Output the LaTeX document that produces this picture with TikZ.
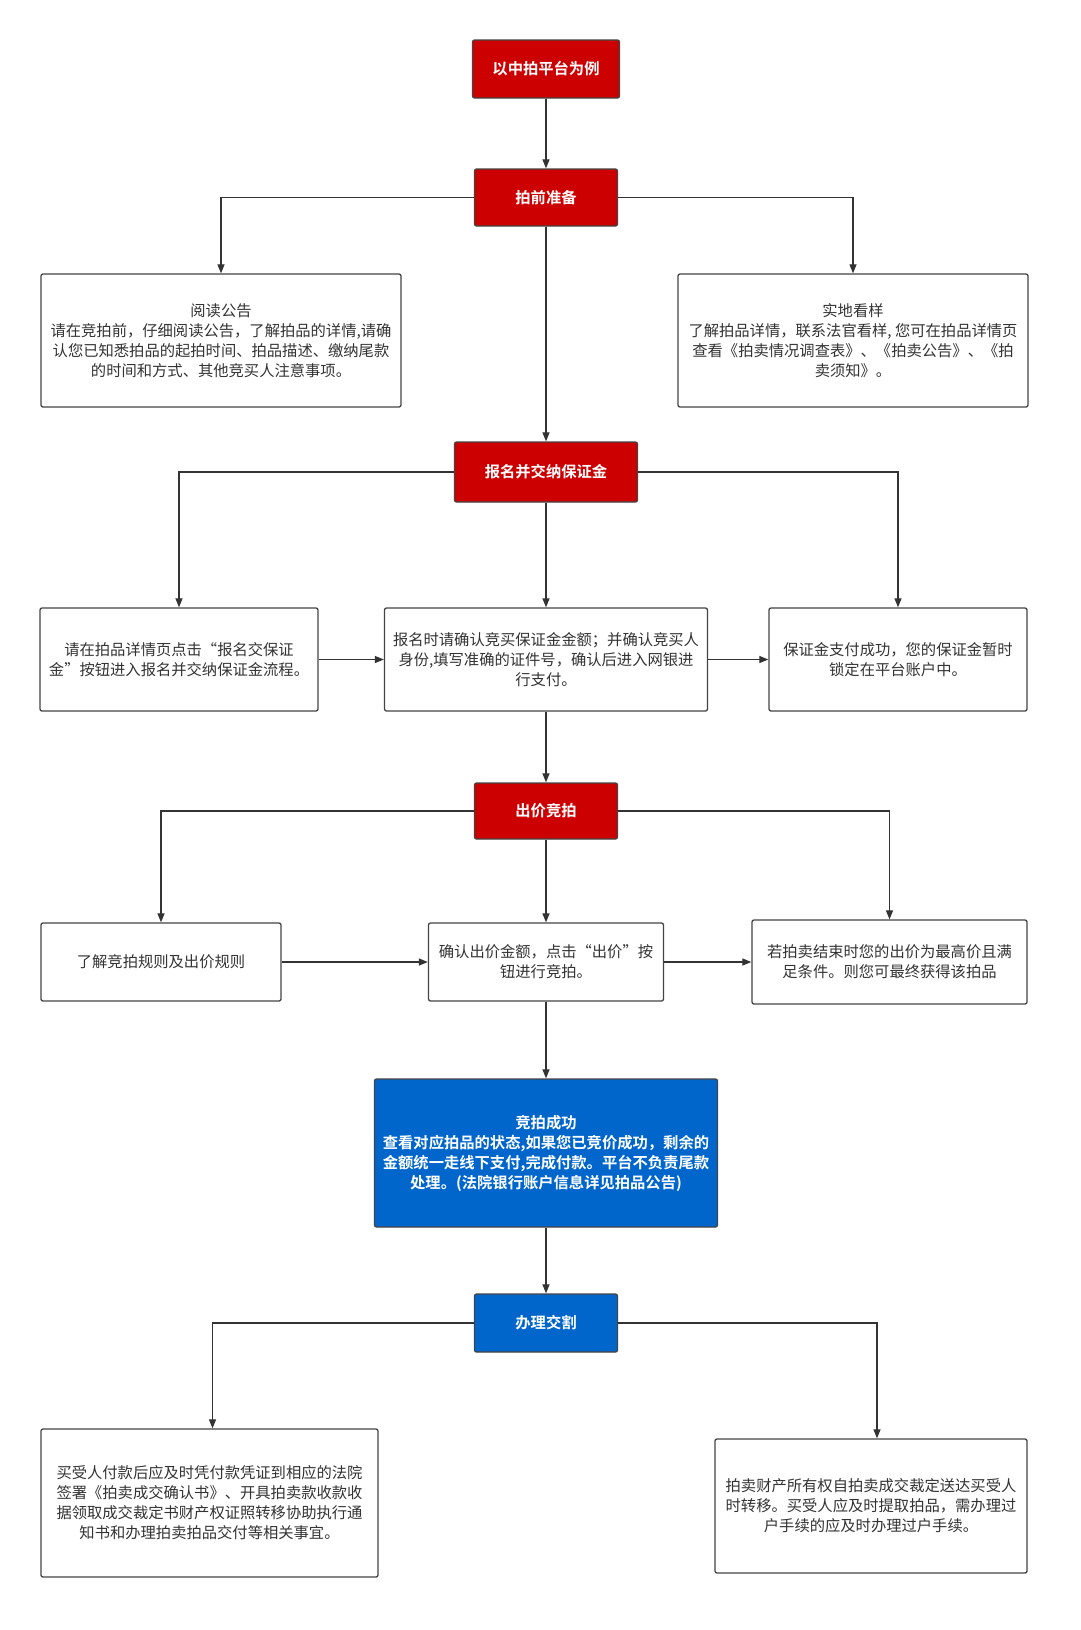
\documentclass[tikz,border=0pt]{standalone}
\usepackage{fontspec}
\setmainfont{Noto Sans CJK SC}[BoldFont={Noto Sans CJK SC Bold}]
\usetikzlibrary{arrows.meta}
\definecolor{hdred}{HTML}{CC0000}
\definecolor{hdblue}{HTML}{0066CC}
\definecolor{txtgrey}{HTML}{333333}
\definecolor{edgegrey}{HTML}{444444}
\begin{document}
\begin{tikzpicture}[x=1pt,y=-1pt,
  redbox/.style={draw=edgegrey,line width=1.3pt,rounded corners=2pt,fill=hdred,text=white,
    font=\fontsize{15.3}{20}\selectfont\bfseries,inner sep=0pt},
  bluebox/.style={draw=edgegrey,line width=1.3pt,rounded corners=2pt,fill=hdblue,text=white,
    font=\fontsize{15.3}{20}\selectfont\bfseries,align=center,inner sep=0pt},
  txtbox/.style={draw=edgegrey,line width=1.3pt,rounded corners=2pt,text=txtgrey,
    font=\fontsize{15.3}{20}\selectfont,align=center,inner sep=0pt},
  arr/.style={draw=txtgrey,line width=1.2pt,-{Triangle[length=9pt,width=7pt]}}]

\useasboundingbox[fill=white] (0,0) rectangle (1080,1630);

\node[redbox,minimum width=147,minimum height=58] (top) at (546,69) {以中拍平台为例};
\node[redbox,minimum width=143,minimum height=57] (prep) at (546,197.5) {拍前准备};
\node[txtbox,minimum width=360,minimum height=133] (read) at (221,340.5)
  {阅读公告\\请在竞拍前，仔细阅读公告，了解拍品的详情,请确\\认您已知悉拍品的起拍时间、拍品描述、缴纳尾款\\的时间和方式、其他竞买人注意事项。};
\node[txtbox,minimum width=350,minimum height=133] (view) at (853,340.5)
  {实地看样\\了解拍品详情，联系法官看样, 您可在拍品详情页\\查看《拍卖情况调查表》、《拍卖公告》、《拍\\卖须知》。};

\node[redbox,minimum width=183,minimum height=60] (reg) at (546,472) {报名并交纳保证金};
\node[txtbox,minimum width=278,minimum height=103] (signup) at (179,659.5)
  {请在拍品详情页点击“报名交保证\\金”按钮进入报名并交纳保证金流程。};
\node[txtbox,minimum width=323,minimum height=103] (confirm) at (546,659.5)
  {报名时请确认竞买保证金金额；并确认竞买人\\身份,填写准确的证件号，确认后进入网银进\\行支付。};
\node[txtbox,minimum width=258,minimum height=103] (locked) at (898,659.5)
  {保证金支付成功，您的保证金暂时\\锁定在平台账户中。};

\node[redbox,minimum width=143,minimum height=56] (bid) at (546,811) {出价竞拍};
\node[txtbox,minimum width=240,minimum height=78] (rules) at (161,962) {了解竞拍规则及出价规则};
\node[txtbox,minimum width=235,minimum height=78] (offer) at (546,962)
  {确认出价金额，点击“出价”按\\钮进行竞拍。};
\node[txtbox,minimum width=275,minimum height=84] (win) at (889.5,962)
  {若拍卖结束时您的出价为最高价且满\\足条件。则您可最终获得该拍品};

\node[bluebox,minimum width=343,minimum height=148] (success) at (546,1153)
  {竞拍成功\\查看对应拍品的状态,如果您已竞价成功，剩余的\\金额统一走线下支付,完成付款。平台不负责尾款\\处理。(法院银行账户信息详见拍品公告)};

\node[bluebox,minimum width=143,minimum height=58] (deliv) at (546,1323) {办理交割};
\node[txtbox,minimum width=337,minimum height=148] (buyer) at (209.5,1503)
  {买受人付款后应及时凭付款凭证到相应的法院\\签署《拍卖成交确认书》、开具拍卖款收款收\\据领取成交裁定书财产权证照转移协助执行通\\知书和办理拍卖拍品交付等相关事宜。};
\node[txtbox,minimum width=312,minimum height=134] (transfer) at (871,1506)
  {拍卖财产所有权自拍卖成交裁定送达买受人\\时转移。买受人应及时提取拍品，需办理过\\户手续的应及时办理过户手续。};

\draw[arr] (top) -- (prep);
\draw[arr] (prep.west) -| (read.north);
\draw[arr] (prep.east) -| (view.north);
\draw[arr] (prep) -- (reg);

\draw[arr] (reg.west) -| (signup.north);
\draw[arr] (reg) -- (confirm);
\draw[arr] (reg.east) -| (locked.north);
\draw[arr] (signup) -- (confirm);
\draw[arr] (confirm) -- (locked);

\draw[arr] (confirm) -- (bid);
\draw[arr] (bid.west) -| (rules.north);
\draw[arr] (bid) -- (offer);
\draw[arr] (bid.east) -| (win.north);
\draw[arr] (rules) -- (offer);
\draw[arr] (offer) -- (win);

\draw[arr] (offer) -- (success);
\draw[arr] (success) -- (deliv);
\draw[arr] (deliv.west) -| ([xshift=3pt]buyer.north);
\draw[arr] (deliv.east) -| ([xshift=6pt]transfer.north);

\end{tikzpicture}
\end{document}
